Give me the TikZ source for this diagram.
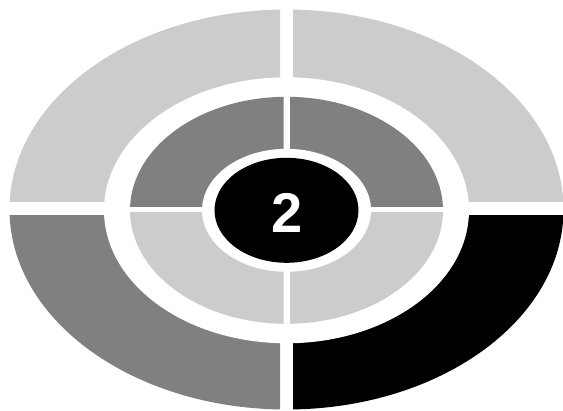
\documentclass[tikz,border=0pt]{standalone}
\usepackage{fontspec}
\setmainfont{Liberation Sans}
\definecolor{lightg}{HTML}{CCCCCC}
\definecolor{midg}{HTML}{808080}
\begin{document}
\begin{tikzpicture}[x=1pt,y=-1pt,
  outerell/.style={x radius=277pt, y radius=200pt},
  ringwhite/.style={x radius=182.5pt, y radius=133pt},
  midell/.style={x radius=156.5pt, y radius=113.5pt},
  innerwhite/.style={x radius=84.5pt, y radius=61.5pt},
  coreell/.style={x radius=72pt, y radius=52.5pt}]
\useasboundingbox (0,0) rectangle (563,411);
\coordinate (c) at (286.5,209.5);
\coordinate (ci) at (286.5,210.3);
% outer ring quadrants
\begin{scope}\clip (0,0) rectangle (280,202); \fill[lightg] (c) ellipse [outerell]; \end{scope}
\begin{scope}\clip (293,0) rectangle (570,202); \fill[lightg] (c) ellipse [outerell]; \end{scope}
\begin{scope}\clip (0,216) rectangle (280,420); \fill[midg] (c) ellipse [outerell]; \end{scope}
\begin{scope}\clip (293,216) rectangle (570,420); \fill[black] (c) ellipse [outerell]; \end{scope}
\fill[white] (ci) ellipse [ringwhite];
% middle ring quadrants
\begin{scope}\clip (0,0) rectangle (283.5,207); \fill[midg] (ci) ellipse [midell]; \end{scope}
\begin{scope}\clip (290,0) rectangle (570,207); \fill[midg] (ci) ellipse [midell]; \end{scope}
\begin{scope}\clip (0,213) rectangle (283.5,420); \fill[lightg] (ci) ellipse [midell]; \end{scope}
\begin{scope}\clip (290,213) rectangle (570,420); \fill[lightg] (ci) ellipse [midell]; \end{scope}
\fill[white] (ci) ellipse [innerwhite];
\fill[black] (ci) ellipse [coreell];
\node[text=white, font=\fontsize{56}{56}\selectfont\bfseries, inner sep=0pt] (num) at (287,213) {2};
\end{tikzpicture}
\end{document}
